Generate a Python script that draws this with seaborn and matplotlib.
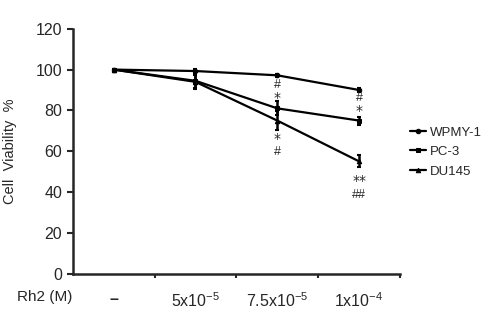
import numpy as np
import pandas as pd
import matplotlib
matplotlib.use("Agg")
import matplotlib.pyplot as plt
import seaborn as sns

# Data
doses = ["\u2013", "5x10$^{-5}$", "7.5x10$^{-5}$", "1x10$^{-4}$"]
cell_lines = ["WPMY-1", "PC-3", "DU145"]
wpmy = [100, 99.3, 97.2, 90]
pc3 = [100, 94.5, 81, 75]
du145 = [100, 94, 75, 55]
wpmy_err = [0.5, 0.8, 0.8, 0.8]
pc3_err = [0.5, 3.5, 3.5, 2]
du145_err = [0.5, 3.5, 4.5, 3]

# significance marks: (dose index, baseline y, text)
marks_x = [2, 2, 3, 3, 2, 2, 3, 3]
marks_y = [91.0, 84.0, 84.6, 77.6, 64.0, 58.0, 43.6, 37.2]
marks_txt = ["#", "*", "#", "*", "*", "#", "**", "##"]

df = pd.DataFrame({
    "dose": list(range(4)) * 3,
    "viability": wpmy + pc3 + du145,
    "err": wpmy_err + pc3_err + du145_err,
    "line": np.repeat(cell_lines, 4),
})

sns.set_style("ticks")
plt.rcParams["font.family"] = ["Liberation Sans", "DejaVu Sans"]
plt.rcParams["mathtext.default"] = "regular"

fig = plt.figure(figsize=(5, 3.26), dpi=100)
ax = fig.add_axes([0.1454, 0.161, 0.6546, 0.7506])

sns.lineplot(data=df, x="dose", y="viability", hue="line", style="line",
             markers=["o", "s", "^"], dashes=False,
             palette=["black"] * 3, linewidth=1.6, markersize=3.2,
             markeredgecolor="black", ax=ax)

for name in cell_lines:
    sub = df[df["line"] == name]
    ax.errorbar(sub["dose"], sub["viability"], yerr=sub["err"], fmt="none",
                ecolor="black", elinewidth=1.8, capsize=1.5, capthick=1.5)

for x, y, t in zip(marks_x, marks_y, marks_txt):
    if "*" in t:
        ax.text(x, y, t, ha="center", va="baseline", fontsize=10,
                family="DejaVu Sans")
    else:
        ax.text(x, y, t, ha="center", va="baseline", fontsize=9)

ax.set_xlim(-0.5, 3.5)
ax.set_ylim(0, 120)
ax.set_yticks(range(0, 121, 20))
ax.set_xticks(range(4))
ax.set_xticklabels(doses, fontsize=11.5)
ax.get_xticklabels()[0].set_fontweight("bold")
ax.set_xticks([0.5, 1.5, 2.5, 3.5], minor=True)
ax.tick_params(axis="x", which="major", length=0, pad=13)
ax.tick_params(axis="x", which="minor", length=3, width=1.5, direction="out")
ax.tick_params(axis="y", labelsize=11.5, length=4, width=1.5, direction="out")
for s in ["left", "bottom"]:
    ax.spines[s].set_linewidth(1.8)
sns.despine(ax=ax)

ax.set_xlabel("")
ax.set_ylabel("Cell  Viability  %", fontsize=10.5)
ax.yaxis.set_label_coords(-0.17, 0.5)
fig.text(0.09, (326 - 297) / 326, "Rh2 (M)", ha="center", va="center", fontsize=11)

ax.legend(loc="center left", bbox_to_anchor=(0.81, 0.534),
          bbox_transform=fig.transFigure, frameon=False, fontsize=9.5,
          handlelength=1.2, handletextpad=0.3, labelspacing=0.55,
          borderaxespad=0)

fig.savefig("out.png", dpi=100)
